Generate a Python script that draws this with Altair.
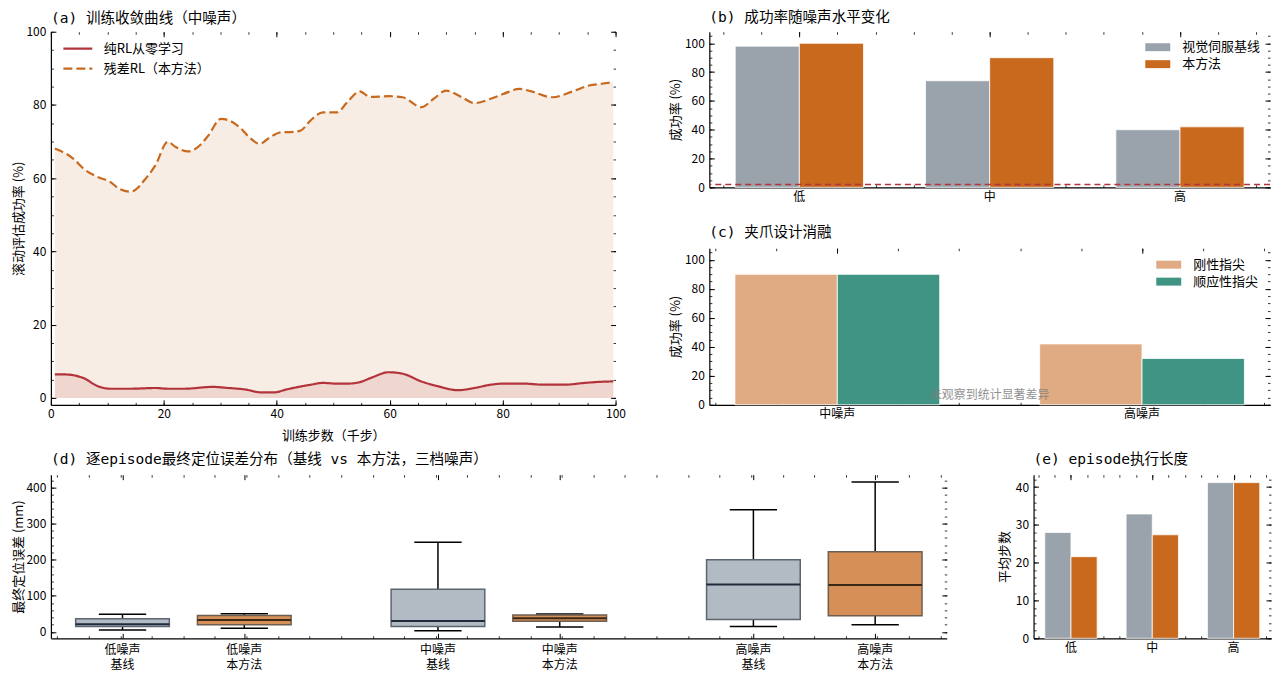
import altair as alt
import pandas as pd

FONT = "Noto Sans CJK SC"
TITLE_FONT = "DejaVu Sans Mono, Noto Sans CJK SC"

GRAY = "#9aa3ac"
ORANGE = "#c8691e"
RED = "#b3333b"
TAN = "#e0ab82"
TEAL = "#409483"

# (a) rolling eval success during training, medium noise
curve_names = ["纯RL从零学习", "残差RL（本方法）"]
pure_steps = [0.7, 2.5, 5.8, 8.3, 10.5, 14.1, 18.5, 20.7, 23.6, 28.6,
              31.5, 34.4, 37.3, 39.5, 41.7, 46, 48.2, 50.4, 52.5, 54.7,
              56.9, 59.8, 62.3, 65.6, 68.5, 72.1, 75, 77.9, 80.1, 83.7,
              87.3, 90.9, 94.6, 97.5, 99.6]
pure_rate = [6.4, 6.4, 5.4, 3.2, 2.5, 2.5, 2.7, 2.5, 2.5, 3,
             2.7, 2.3, 1.5, 1.5, 2.3, 3.6, 4.1, 3.9, 3.9, 4.3,
             5.6, 7, 6.6, 4.5, 3.2, 2.1, 2.7, 3.6, 3.9, 3.9,
             3.6, 3.6, 4.1, 4.4, 4.5]
resid_steps = [0.7, 4, 5.8, 8.3, 10.5, 12, 14.1, 17, 18.5, 20.7,
               22.1, 24.3, 26.4, 27.9, 30.1, 31.5, 33.7, 35.1, 37, 38.8,
               41, 42.4, 44.2, 46, 48.2, 50.7, 52.5, 54.7, 56.5, 59.8,
               62.3, 65.6, 67.8, 70, 72.8, 75, 77.9, 80.1, 83, 85.1,
               88.8, 92.4, 95.3, 97.5, 99.6]
resid_rate = [68.1, 65.3, 62.6, 60.3, 59, 57.2, 56.3, 60.3, 63.5, 69.9,
              68.5, 67.3, 69, 71.7, 76.2, 75.8, 73.5, 71.2, 69.4, 71.2,
              72.6, 72.6, 73, 75.8, 78, 78, 80.8, 83.7, 82.2, 82.4,
              82.1, 79.4, 81.7, 83.9, 82.1, 80.5, 81.7, 83, 84.4, 83.7,
              82.1, 83.7, 85.3, 85.8, 86.2]

# (b) success vs noise level
noise_levels = ["低", "中", "高"]
method_names = ["视觉伺服基线", "本方法"]
baseline_success = [98, 74, 40]
ours_success = [100, 90, 42]
pure_rl_success = [2]

# (c) gripper ablation
grip_noise = ["中噪声", "高噪声"]
grip_names = ["刚性指尖", "顺应性指尖"]
rigid_success = [90, 42]
compliant_success = [90, 32]
grip_note = "未观察到统计显著差异"

# (d) final position error per episode (box stats, mm)
box_labels = ["低噪声\n基线", "低噪声\n本方法", "中噪声\n基线",
              "中噪声\n本方法", "高噪声\n基线", "高噪声\n本方法"]
box_kind = ["基线", "本方法"] * 3
box_pos = [-0.193, 0.193, 0.807, 1.193, 1.807, 2.193]
whisk_lo = [5.5, 10, 2.8, 13.8, 14.6, 20]
q1 = [15, 20, 14.7, 29.4, 34, 44.8]
median = [21, 33, 30, 38, 131, 130]
q3 = [36, 45, 118, 46.8, 200, 222]
whisk_hi = [49, 50, 248, 49.5, 338, 415]

# (e) mean episode length
baseline_len = [28, 32.9, 41.2]
ours_len = [21.6, 27.4, 41.2]


def left_axis(title, values, extent=26):
    return alt.Axis(title=title, values=values, ticks=False, grid=False,
                    domainColor="black", domainWidth=1.2, labelPadding=5,
                    minExtent=extent, maxExtent=extent, titlePadding=1)


def bottom_axis(title=None, values=None, labels=True, title_pad=10):
    kw = dict(title=title, ticks=False, grid=False, labels=labels,
              domainColor="black", domainWidth=1.2, labelPadding=4,
              labelAngle=0, labelFlush=False, titlePadding=title_pad)
    if values is not None:
        kw["values"] = values
    return alt.Axis(**kw)


def tick_axis(orient, values, size):
    # negative offset pulls the axis inside -> inward ticks
    return alt.Axis(orient=orient, values=values, tickSize=size, offset=-size,
                    tickWidth=1 if size > 3 else 0.8, tickColor="black",
                    labels=False, domain=False, grid=False, title=None,
                    minExtent=0, maxExtent=0)


def tick_layers(data, xfield, yfield, xscale, yscale, xmaj, xmin, ymaj, ymin):
    base = alt.Chart(data).mark_point(opacity=0)
    layers = []
    for xv, yv, size in [(xmaj, ymaj, 5), (xmin, ymin, 2.5)]:
        for xo, yo in [("top", "right"), ("bottom", "left")]:
            layers.append(base.encode(
                x=alt.X(xfield, scale=xscale, axis=tick_axis(xo, xv, size)),
                y=alt.Y(yfield, scale=yscale, axis=tick_axis(yo, yv, size))))
    return layers


# wide flat swatch, drawn wider than the legend's symbol slot
SWATCH = "M-1.316,-0.42H1.316V0.42H-1.316Z"


def swatch_legend(lx, ly):
    return alt.Legend(title=None, orient="none", legendX=lx, legendY=ly, padding=0,
                      symbolType=SWATCH, symbolSize=361,
                      symbolStrokeWidth=0, symbolOpacity=1,
                      labelFontSize=13, labelOffset=15, rowPadding=0)


def bar_panel(cats, groups, vals_a, vals_b, colors, pad_in, pad_out, y_dom,
              y_major, y_minor, y_title, legend, extent=26):
    n = len(cats)
    df = pd.DataFrame({"cat": cats * 2, "idx": list(range(n)) * 2,
                       "group": [groups[0]] * n + [groups[1]] * n,
                       "value": vals_a + vals_b})
    lo = -(pad_out + (1 - pad_in) / 2)
    hi = n - 1 - lo
    x_minor = [round(k * 0.2, 1) for k in range(-5, 5 * n + 5)
               if lo <= k * 0.2 <= hi]
    ys = alt.Scale(domain=y_dom, nice=False, zero=False)
    bars = alt.Chart(df).mark_bar(stroke="white", strokeWidth=0.8).encode(
        x=alt.X("cat:N", scale=alt.Scale(domain=cats, paddingInner=pad_in,
                                         paddingOuter=pad_out),
                axis=bottom_axis()),
        xOffset=alt.XOffset("group:N", scale=alt.Scale(domain=groups)),
        y=alt.Y("value:Q", scale=ys, axis=left_axis(y_title, y_major, extent)),
        color=alt.Color("group:N", scale=alt.Scale(domain=groups, range=colors),
                        legend=legend),
    )
    ticks = tick_layers(df, "idx:Q", "value:Q",
                        alt.Scale(domain=[lo, hi], nice=False, zero=False), ys,
                        list(range(n)), x_minor, y_major, y_minor)
    return bars, ys, ticks


# ---------- (a) ----------
xa = alt.Scale(domain=[0, 100], nice=False, zero=False)
ya = alt.Scale(domain=[-1.9, 100], nice=False, zero=False)
pure_df = pd.DataFrame({"step": pure_steps, "rate": pure_rate, "curve": curve_names[0]})
resid_df = pd.DataFrame({"step": resid_steps, "rate": resid_rate, "curve": curve_names[1]})
curve_df = pd.concat([pure_df, resid_df])

leg_a = alt.Legend(title=None, orient="none", legendX=14, legendY=4, padding=0,
                   symbolType="M-1.27,0H1.27", symbolSize=520, symbolStrokeWidth=2.2,
                   labelFontSize=13, labelOffset=13, rowPadding=0)


def fill_under(df, color):
    return alt.Chart(df).mark_area(color=color, opacity=0.12, interpolate="monotone").encode(
        x=alt.X("step:Q", scale=xa, axis=None),
        y=alt.Y("rate:Q", scale=ya, axis=None),
        y2=alt.datum(0),
    )


lines_a = alt.Chart(curve_df).mark_line(strokeWidth=2.2, interpolate="monotone").encode(
    x=alt.X("step:Q", scale=xa,
            axis=bottom_axis("训练步数（千步）", list(range(0, 101, 20)))),
    y=alt.Y("rate:Q", scale=ya,
            axis=left_axis("滚动评估成功率 (%)", list(range(0, 101, 20)), extent=24)),
    color=alt.Color("curve:N", scale=alt.Scale(domain=curve_names, range=[RED, ORANGE]),
                    legend=leg_a),
    strokeDash=alt.StrokeDash("curve:N", scale=alt.Scale(domain=curve_names,
                                                         range=[[1, 0], [9, 4]]),
                              legend=leg_a),
)
chart_a = alt.layer(
    fill_under(resid_df, ORANGE), fill_under(pure_df, RED), lines_a,
    *tick_layers(curve_df, "step:Q", "rate:Q", xa, ya,
                 list(range(0, 101, 20)), list(range(0, 101, 5)),
                 list(range(0, 101, 20)), list(range(0, 101, 5)))
).resolve_axis(x="independent", y="independent").properties(
    width=566, height=374,
    title=alt.TitleParams("(a) 训练收敛曲线（中噪声）", offset=0))

# ---------- (b) ----------
bars_b, ys_b, ticks_b = bar_panel(
    noise_levels, method_names, baseline_success, ours_success, [GRAY, ORANGE],
    0.326, 0.136, [0, 108], list(range(0, 101, 20)), list(range(0, 106, 5)),
    "成功率 (%)", swatch_legend(440, 6))
pure_line = alt.Chart(pd.DataFrame({"value": pure_rl_success})).mark_rule(
    color=RED, strokeDash=[6, 4], strokeWidth=1.3
).encode(y=alt.Y("value:Q", scale=ys_b, axis=None))
chart_b = alt.layer(bars_b, pure_line, *ticks_b).resolve_scale(
    x="independent").resolve_axis(x="independent", y="independent").properties(
    width=562, height=156,
    title=alt.TitleParams("(b) 成功率随噪声水平变化", offset=7))

# ---------- (c) ----------
W_C, H_C = 562, 157
bars_c, ys_c, ticks_c = bar_panel(
    grip_noise, grip_names, rigid_success, compliant_success, [TAN, TEAL],
    0.328, 0.084, [0, 108], list(range(0, 101, 20)), list(range(0, 106, 5)),
    "成功率 (%)", swatch_legend(451, 7))
note_c = alt.Chart(pd.DataFrame({"note": [grip_note]})).mark_text(
    color="#808080", opacity=0.85, fontSize=12, font=FONT
).encode(text="note:N", x=alt.value(W_C / 2), y=alt.value(H_C - 9.5))
chart_c = alt.layer(bars_c, note_c, *ticks_c).resolve_scale(
    x="independent").resolve_axis(x="independent", y="independent").properties(
    width=W_C, height=H_C, title="(c) 夹爪设计消融")

# ---------- (d) ----------
W_D, H_D = 898, 164
BOX_HALF, CAP_HALF = 0.1485, 0.075
kinds = ["基线", "本方法"]
box_df = pd.DataFrame({"pos": box_pos, "kind": box_kind, "label": box_labels,
                       "lo": whisk_lo, "q1": q1, "med": median, "q3": q3,
                       "hi": whisk_hi})
xd = alt.Scale(domain=[-0.42, 2.42], nice=False, zero=False)
yd = alt.Scale(domain=[-17.8, 435.3], nice=False, zero=False)
box_base = alt.Chart(box_df).transform_calculate(
    bl=alt.datum.pos - BOX_HALF, br=alt.datum.pos + BOX_HALF,
    cl=alt.datum.pos - CAP_HALF, cr=alt.datum.pos + CAP_HALF)

whiskers = box_base.mark_rule(color="black", strokeWidth=1.5).encode(
    x=alt.X("pos:Q", scale=xd, axis=bottom_axis(labels=False)),
    y=alt.Y("lo:Q", scale=yd,
            axis=left_axis("最终定位误差 (mm)", list(range(0, 401, 100)), extent=24)),
    y2="hi:Q")
caps = [box_base.mark_rule(color="black", strokeWidth=1.5).encode(
    x=alt.X("cl:Q", scale=xd, axis=None), x2="cr:Q",
    y=alt.Y(f"{end}:Q", scale=yd, axis=None)) for end in ["lo", "hi"]]
boxes = box_base.mark_bar(strokeWidth=1.5).encode(
    x=alt.X("bl:Q", scale=xd, axis=None), x2="br:Q",
    y=alt.Y("q1:Q", scale=yd, axis=None), y2="q3:Q",
    fill=alt.Fill("kind:N", scale=alt.Scale(domain=kinds, range=["#b2bac4", "#d68f56"]),
                  legend=None),
    stroke=alt.Stroke("kind:N", scale=alt.Scale(domain=kinds, range=["#5c6570", "#6e5e50"]),
                      legend=None))
medians = box_base.mark_rule(strokeWidth=2).encode(
    x=alt.X("bl:Q", scale=xd, axis=None), x2="br:Q",
    y=alt.Y("med:Q", scale=yd, axis=None),
    color=alt.Color("kind:N", scale=alt.Scale(domain=kinds, range=["#1f2b3a", "#3a2818"]),
                    legend=None))
labels_d = alt.Chart(box_df).mark_text(
    font=FONT, fontSize=12, baseline="top", lineBreak="\n", lineHeight=15,
    color="black"
).encode(x=alt.X("pos:Q", scale=xd, axis=None), y=alt.value(H_D + 7),
         text="label:N")
d_minor = [round(k * 0.1, 1) for k in range(-4, 25)]
chart_d = alt.layer(
    whiskers, *caps, boxes, medians, labels_d,
    *tick_layers(box_df, "pos:Q", "hi:Q", xd, yd, box_pos, d_minor,
                 list(range(0, 401, 100)), list(range(0, 421, 20)))
).resolve_axis(x="independent", y="independent").properties(
    width=W_D, height=H_D,
    title="(d) 逐episode最终定位误差分布（基线 vs 本方法，三档噪声）")

# ---------- (e) ----------
bars_e, ys_e, ticks_e = bar_panel(
    noise_levels, method_names, baseline_len, ours_len, [GRAY, ORANGE],
    0.356, 0.138, [0, 43.3], list(range(0, 41, 10)), list(range(0, 43, 2)),
    "平均步数", None, extent=21)
chart_e = alt.layer(bars_e, *ticks_e).resolve_scale(
    x="independent").resolve_axis(x="independent", y="independent").properties(
    width=238, height=164, title="(e) episode执行长度")

# ---------- layout ----------
RES = dict(color="independent", strokeDash="independent", xOffset="independent",
           fill="independent", stroke="independent")
right_col = alt.vconcat(chart_b, chart_c, spacing=22).resolve_scale(**RES)
top = alt.hconcat(chart_a, right_col, spacing=44).resolve_scale(**RES)
bottom = alt.hconcat(chart_d, chart_e, spacing=51).resolve_scale(**RES)

chart = alt.vconcat(top, bottom, spacing=8).resolve_scale(**RES).properties(
    padding={"left": 5, "top": 0, "right": 0, "bottom": 0}
).configure(font=FONT).configure_view(stroke=None).configure_axis(
    labelFont=FONT, titleFont=FONT, labelFontSize=12, titleFontSize=13,
    labelColor="black", titleColor="black", titleFontWeight="normal",
).configure_title(
    font=TITLE_FONT, fontSize=14.6, fontWeight="normal", anchor="start",
    frame="group", offset=8, color="black",
).configure_legend(labelFont=FONT, labelColor="black")

chart.save("out.html", embed_options={"renderer": "svg", "actions": False})
